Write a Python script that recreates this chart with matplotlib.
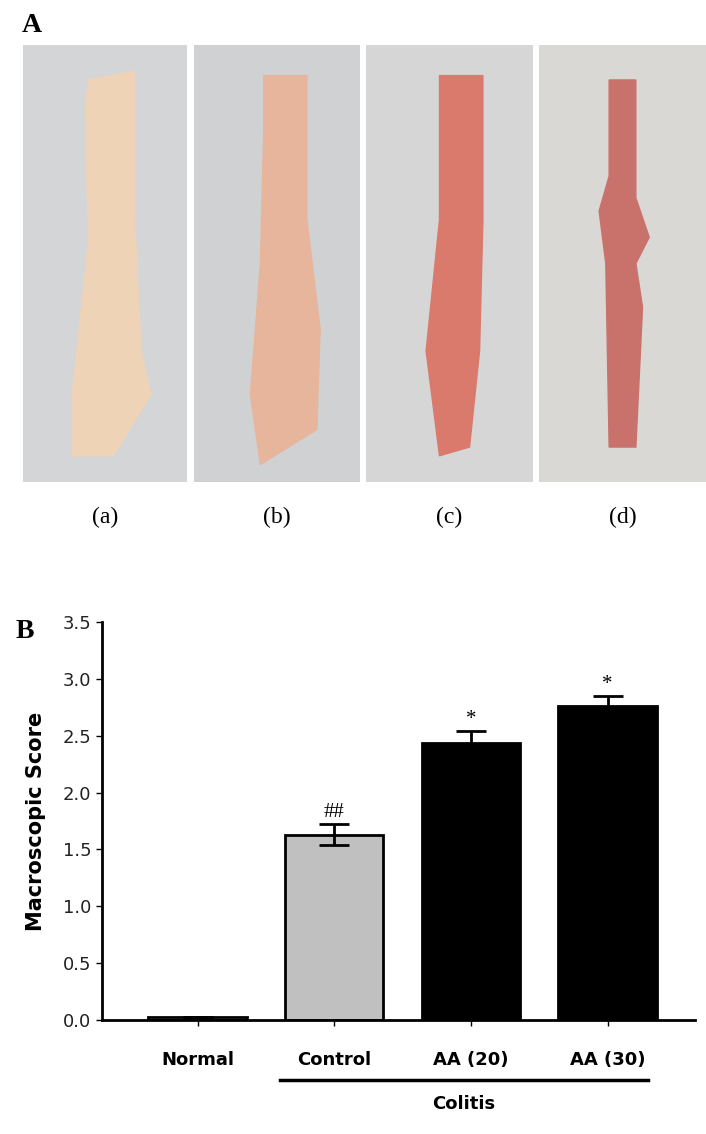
import matplotlib
matplotlib.use("Agg")
import matplotlib.pyplot as plt
from matplotlib.patches import Polygon

categories = ["Normal", "Control", "AA (20)", "AA (30)"]
scores = [0.03, 1.63, 2.44, 2.76]
errors = [0.0, 0.09, 0.10, 0.09]
annotations = ["", "##", "*", "*"]
bar_colors = ["#c0c0c0", "#c0c0c0", "#000000", "#000000"]
yticks = [0.0, 0.5, 1.0, 1.5, 2.0, 2.5, 3.0, 3.5]
photo_labels = ["(a)", "(b)", "(c)", "(d)"]
tissue_colors = ["#efd3b6", "#e6b59c", "#d97a6c", "#c9726c"]
bg_colors = ["#d4d5d7", "#d0d1d3", "#d6d6d6", "#dad8d4"]

W, H = 706, 1134
fig = plt.figure(figsize=(W/100, H/100), dpi=100)
serif = "Liberation Serif"
fig.text(22/W, 1-26/H, "A", fontsize=20, fontweight="bold", family=serif, va="center")
fig.text(16/W, 1-632/H, "B", fontsize=20, fontweight="bold", family=serif, va="center")

photo_x = [(23, 187), (194, 360), (366, 533), (539, 706)]
shapes = [
    [(0.40, 0.92), (0.68, 0.94), (0.68, 0.60), (0.72, 0.30), (0.78, 0.20), (0.55, 0.06),
     (0.30, 0.06), (0.30, 0.20), (0.40, 0.55), (0.38, 0.85)],
    [(0.42, 0.93), (0.68, 0.93), (0.68, 0.60), (0.76, 0.35), (0.74, 0.12), (0.40, 0.04),
     (0.34, 0.20), (0.40, 0.50), (0.42, 0.80)],
    [(0.44, 0.93), (0.70, 0.93), (0.70, 0.60), (0.68, 0.30), (0.62, 0.08), (0.44, 0.06),
     (0.36, 0.30), (0.44, 0.60)],
    [(0.42, 0.92), (0.58, 0.92), (0.58, 0.65), (0.66, 0.56), (0.58, 0.50), (0.62, 0.40),
     (0.58, 0.08), (0.42, 0.08), (0.40, 0.50), (0.36, 0.62), (0.42, 0.70)],
]
for (x0, x1), lab, tc, bg, shp in zip(photo_x, photo_labels, tissue_colors, bg_colors, shapes):
    ax = fig.add_axes([x0/W, 1-482/H, (x1-x0)/W, 437/H])
    ax.set_facecolor(bg)
    ax.add_patch(Polygon(shp, closed=True, color=tc))
    ax.set_xlim(0, 1); ax.set_ylim(0, 1)
    ax.set_xticks([]); ax.set_yticks([])
    for s in ax.spines.values():
        s.set_visible(False)
    fig.text((x0+x1)/2/W, 1-517/H, lab, fontsize=17, family=serif, ha="center", va="center")

ax = fig.add_axes([102/W, 1-1020/H, 593/W, 398/H])
x = list(range(len(categories)))
ax.bar(x, scores, width=0.72, color=bar_colors, edgecolor="black", linewidth=2,
       yerr=errors, error_kw=dict(ecolor="black", capsize=11, elinewidth=2, capthick=2))
for xi, s, e, a in zip(x, scores, errors, annotations):
    if a:
        ax.text(xi, s+e+0.02, a, ha="center", va="bottom", fontsize=15, family=serif)
ax.set_xlim(-0.70, 3.64)
ax.set_ylim(0, 3.5)
ax.set_yticks(yticks)
ax.set_yticklabels([f"{v:.1f}" for v in yticks], fontsize=13, color="#222222")
ax.set_xticks(x)
ax.set_xticklabels(categories, fontsize=13, fontweight="bold")
ax.tick_params(axis="x", length=4, width=1, pad=18)
ax.tick_params(axis="y", length=4, width=1)
ax.set_ylabel("Macroscopic Score", fontsize=15, fontweight="bold", labelpad=12)
for s in ["top", "right"]:
    ax.spines[s].set_visible(False)
for s in ["left", "bottom"]:
    ax.spines[s].set_linewidth(2)

fig.add_artist(plt.Line2D([280/W, 648/W], [1-1080/H, 1-1080/H], color="black", lw=2.5))
fig.text(464/W, 1-1104/H, "Colitis", fontsize=13, fontweight="bold", ha="center", va="center")
fig.savefig("out.png", dpi=100)
